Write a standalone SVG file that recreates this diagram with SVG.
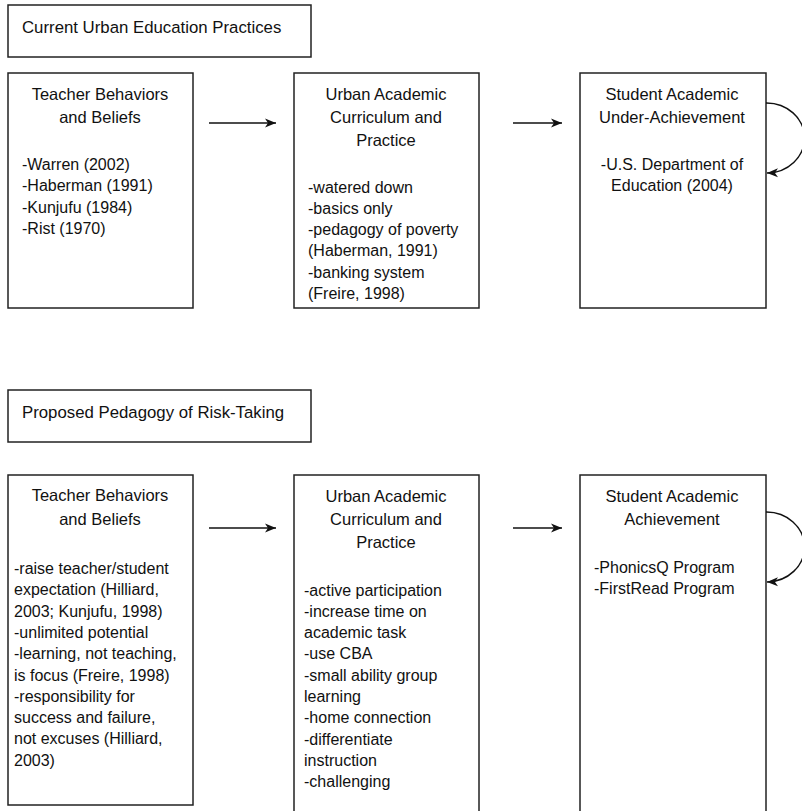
<svg xmlns="http://www.w3.org/2000/svg" width="802" height="811" viewBox="0 0 802 811">
<defs>
<marker id="ah" markerUnits="userSpaceOnUse" markerWidth="12" markerHeight="10" refX="11" refY="5" orient="auto">
<path d="M0,0.5 L11,5 L0,9.5 L3,5 Z" fill="#111"/>
</marker>
<style>
.box{fill:#fff;stroke:#222;stroke-width:1.5}
text{font-family:"Liberation Sans",Arial,sans-serif;font-size:16px;fill:#111}
.h{text-anchor:middle;font-size:16.5px}
.t{font-size:16.8px}
.ln{fill:none;stroke:#111;stroke-width:1.5}
</style>
</defs>
<rect width="802" height="811" fill="#fff"/>

<g id="title1">
<rect class="box" x="8" y="5" width="303" height="52"/>
<text class="t" x="22" y="33">Current Urban Education Practices</text>
</g>

<g id="t-teacher">
<rect class="box" x="8" y="73" width="185" height="235"/>
<text class="h" x="100" y="100">Teacher Behaviors</text>
<text class="h" x="100" y="123">and Beliefs</text>
<text x="22" y="170">-Warren (2002)</text>
<text x="22" y="191.3">-Haberman (1991)</text>
<text x="22" y="212.6">-Kunjufu (1984)</text>
<text x="22" y="234">-Rist (1970)</text>
</g>

<g id="t-curriculum">
<rect class="box" x="294" y="73" width="185" height="235"/>
<text class="h" x="386" y="100">Urban Academic</text>
<text class="h" x="386" y="123">Curriculum and</text>
<text class="h" x="386" y="146">Practice</text>
<text x="308" y="192.5">-watered down</text>
<text x="308" y="213.8">-basics only</text>
<text x="308" y="235.1">-pedagogy of poverty</text>
<text x="308" y="256.4">(Haberman, 1991)</text>
<text x="308" y="277.7">-banking system</text>
<text x="308" y="299">(Freire, 1998)</text>
</g>

<g id="t-student">
<rect class="box" x="580" y="73" width="186" height="235"/>
<text class="h" x="672" y="100">Student Academic</text>
<text class="h" x="672" y="123">Under-Achievement</text>
<text class="h" x="672" y="169.5" style="font-size:16px">-U.S. Department of</text>
<text class="h" x="672" y="191" style="font-size:16px">Education (2004)</text>
</g>

<g id="title2">
<rect class="box" x="8" y="390" width="303" height="52"/>
<text class="t" x="22" y="418">Proposed Pedagogy of Risk-Taking</text>
</g>

<g id="b-teacher">
<rect class="box" x="8" y="475" width="185" height="330"/>
<text class="h" x="100" y="501">Teacher Behaviors</text>
<text class="h" x="100" y="525">and Beliefs</text>
<text x="14" y="574">-raise teacher/student</text>
<text x="14" y="595.3">expectation (Hilliard,</text>
<text x="14" y="616.6">2003; Kunjufu, 1998)</text>
<text x="14" y="637.9">-unlimited potential</text>
<text x="14" y="659.2">-learning, not teaching,</text>
<text x="14" y="680.5">is focus (Freire, 1998)</text>
<text x="14" y="701.8">-responsibility for</text>
<text x="14" y="723.1">success and failure,</text>
<text x="14" y="744.4">not excuses (Hilliard,</text>
<text x="14" y="765.7">2003)</text>
</g>

<g id="b-curriculum">
<rect class="box" x="294" y="475" width="185" height="345"/>
<text class="h" x="386" y="502">Urban Academic</text>
<text class="h" x="386" y="525">Curriculum and</text>
<text class="h" x="386" y="548">Practice</text>
<text x="304" y="595.5">-active participation</text>
<text x="304" y="616.8">-increase time on</text>
<text x="304" y="638.1">academic task</text>
<text x="304" y="659.4">-use CBA</text>
<text x="304" y="680.7">-small ability group</text>
<text x="304" y="702">learning</text>
<text x="304" y="723.3">-home connection</text>
<text x="304" y="744.6">-differentiate</text>
<text x="304" y="765.9">instruction</text>
<text x="304" y="787.2">-challenging</text>
</g>

<g id="b-student">
<rect class="box" x="580" y="475" width="186" height="345"/>
<text class="h" x="672" y="502">Student Academic</text>
<text class="h" x="672" y="525">Achievement</text>
<text x="594" y="573">-PhonicsQ Program</text>
<text x="594" y="594.3">-FirstRead Program</text>
</g>

<g id="connectors">
<line class="ln" x1="209" y1="123" x2="276" y2="123" marker-end="url(#ah)"/>
<line class="ln" x1="513" y1="123" x2="562" y2="123" marker-end="url(#ah)"/>
<path class="ln" d="M766,103 A38,35 0 0 1 767,173" marker-end="url(#ah)"/>
<line class="ln" x1="209" y1="528" x2="276" y2="528" marker-end="url(#ah)"/>
<line class="ln" x1="513" y1="528" x2="562" y2="528" marker-end="url(#ah)"/>
<path class="ln" d="M766,512 A38,35 0 0 1 767,582" marker-end="url(#ah)"/>
</g>
</svg>
